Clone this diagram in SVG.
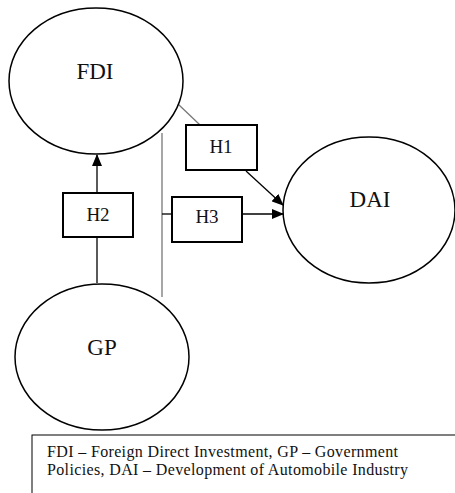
<svg xmlns="http://www.w3.org/2000/svg" width="455" height="493" viewBox="0 0 455 493">
<defs>
<marker id="arr" markerWidth="12" markerHeight="10" refX="11" refY="5" orient="auto" markerUnits="userSpaceOnUse">
<path d="M0,0 L12,5 L0,10 Z" fill="#000"/>
</marker>
<style>
.node{fill:#fff;stroke:#000;stroke-width:1.5}
.box{fill:#fff;stroke:#000;stroke-width:2}
.big{font-family:"Liberation Serif","Times New Roman",serif;font-size:23px;fill:#111;text-anchor:middle}
.lbl{font-family:"Liberation Serif","Times New Roman",serif;font-size:19px;fill:#111;text-anchor:middle}
.leg{font-family:"Liberation Serif","Times New Roman",serif;font-size:16px;fill:#111}
.ln{stroke:#000;stroke-width:1.3;fill:none}
.gray{stroke:#777;stroke-width:1.3;fill:none}
</style>
</defs>
<rect width="455" height="493" fill="#fff"/>
<g id="connectors">
<line class="gray" x1="178" y1="104" x2="200" y2="125"/>
<line class="ln" x1="246" y1="171" x2="283" y2="205" marker-end="url(#arr)"/>
<line class="gray" x1="162" y1="133" x2="162" y2="297"/>
<line class="ln" x1="162" y1="214" x2="172" y2="214"/>
<line class="ln" x1="242" y1="214" x2="283" y2="214" marker-end="url(#arr)"/>
<line class="ln" x1="97" y1="283" x2="97" y2="237"/>
<line class="ln" x1="97" y1="193" x2="97" y2="155" marker-end="url(#arr)"/>
</g>
<g id="FDI">
<ellipse class="node" cx="96" cy="81" rx="87" ry="73"/>
<text class="big" x="95" y="79">FDI</text>
</g>
<g id="DAI">
<ellipse class="node" cx="369" cy="210" rx="86" ry="73"/>
<text class="big" x="370" y="207">DAI</text>
</g>
<g id="GP">
<ellipse class="node" cx="102" cy="357" rx="87" ry="73"/>
<text class="big" x="102" y="355">GP</text>
</g>
<g id="H1">
<rect class="box" x="186" y="125" width="71" height="45"/>
<text class="lbl" x="221" y="153">H1</text>
</g>
<g id="H2">
<rect class="box" x="63" y="193" width="70" height="44"/>
<text class="lbl" x="98" y="221">H2</text>
</g>
<g id="H3">
<rect class="box" x="172" y="197" width="70" height="45"/>
<text class="lbl" x="207" y="223">H3</text>
</g>
<g id="legend">
<rect x="32" y="435" width="430" height="70" fill="#fff" stroke="#000" stroke-width="1"/>
<text class="leg" x="47" y="457" textLength="351" lengthAdjust="spacing">FDI – Foreign Direct Investment, GP – Government</text>
<text class="leg" x="47" y="475" textLength="361" lengthAdjust="spacing">Policies, DAI – Development of Automobile Industry</text>
</g>
</svg>
